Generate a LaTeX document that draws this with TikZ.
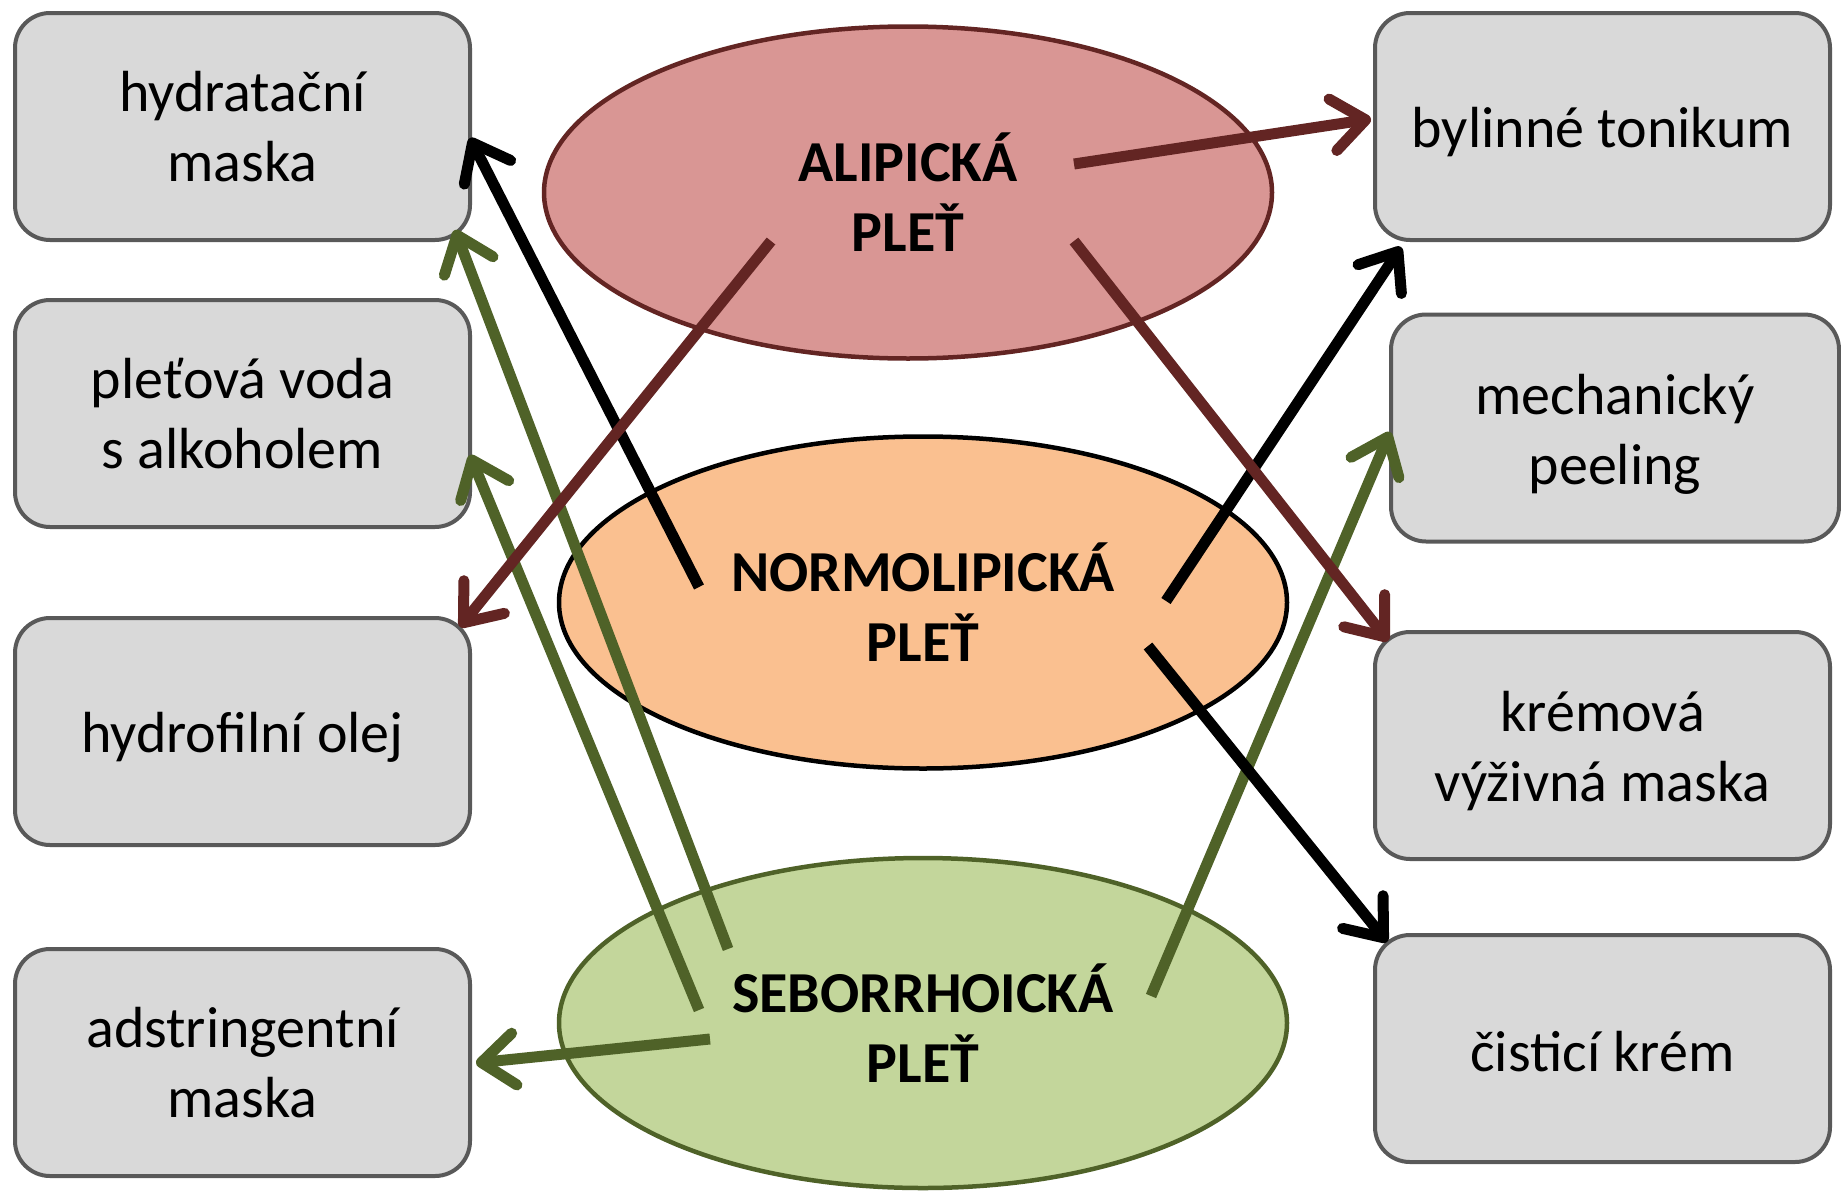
\documentclass[tikz,border=0pt]{standalone}
\usepackage{fontspec}
\setmainfont{Carlito}
\usetikzlibrary{arrows.meta,shapes.geometric}
\definecolor{boxfill}{HTML}{D9D9D9}
\definecolor{boxline}{HTML}{595959}
\definecolor{redfill}{HTML}{D99694}
\definecolor{redline}{HTML}{632523}
\definecolor{orfill}{HTML}{FAC090}
\definecolor{grfill}{HTML}{C3D69B}
\definecolor{grline}{HTML}{4F6228}
\begin{document}
\begin{tikzpicture}[x=1pt,y=-1pt,
  box/.style={draw=boxline, fill=boxfill, line width=4pt, rounded corners=35pt,
    minimum width=455pt, minimum height=227pt, inner sep=0pt},
  txt/.style={align=center, inner sep=0pt, font=\fontsize{58}{70}\selectfont},
  oval/.style={ellipse, line width=4.5pt, minimum width=728pt, minimum height=332pt,
    align=center, inner sep=0pt, font=\fontsize{58}{70}\selectfont\bfseries},
  arr/.style={line width=11pt, -{Straight Barb[round, length=33pt, width=52pt]}}
]
\useasboundingbox (0,0) rectangle (1841,1191);
% left boxes
\node[box] (l1) at (242.5,126.5) {};
\node[txt] (l1t) at (l1.center) {hydratační\\maska};
\node[box] (l2) at (242.5,413.5) {};
\node[txt] (l2t) at (l2.center) {pleťová voda\\s alkoholem};
\node[box] (l3) at (242.5,731.5) {};
\node[txt] (l3t) at ([yshift=-6pt]l3.center) {hydrofilní olej};
\node[box] (l4) at (242.5,1062.5) {};
\node[txt] (l4t) at (l4.center) {adstringentní\\maska};
% right boxes
\node[box] (r1) at (1602.5,126.5) {};
\node[txt] (r1t) at ([yshift=-6pt]r1.center) {bylinné tonikum};
\node[box, minimum width=448pt] (r2) at (1615,428) {};
\node[txt] (r2t) at ([yshift=-6pt]r2.center) {mechanický\\peeling};
\node[box] (r3) at (1602.5,745.5) {};
\node[txt] (r3t) at ([yshift=-6pt]r3.center) {krémová\\výživná maska};
\node[box] (r4) at (1602.5,1048.5) {};
\node[txt] (r4t) at ([yshift=-3pt]r4.center) {čisticí krém};
% ellipses
\node[oval, draw=redline, fill=redfill] (ali) at (908,192.5) {ALIPICKÁ\\PLEŤ};
\node[oval, draw=black, fill=orfill] (nor) at (923,602.5) {NORMOLIPICKÁ\\PLEŤ};
\node[oval, draw=grline, fill=grfill, minimum height=330pt] (seb) at (923,1023) {SEBORRHOICKÁ\\PLEŤ};
% arrow end points
\coordinate (n1) at (699,587);  \coordinate (t1) at (470,138);
\coordinate (s2) at (728,949);  \coordinate (t2) at (455,230);
\coordinate (s3) at (699,1010); \coordinate (t3) at (470,455);
\coordinate (a4) at (771,241);  \coordinate (t4) at (460,627);
\coordinate (s5) at (710,1039); \coordinate (t5) at (476,1063);
\coordinate (a6) at (1074,164); \coordinate (t6) at (1371,119);
\coordinate (n7) at (1166,601); \coordinate (t7) at (1401,247);
\coordinate (s8) at (1151,996); \coordinate (t8) at (1390,432);
\coordinate (a9) at (1074,241); \coordinate (t9) at (1388,641);
\coordinate (n10) at (1148,646); \coordinate (t10) at (1387,942);
% arrows
\draw[arr, black] (n1) -- (t1);
\draw[arr, grline] (s2) -- (t2);
\draw[arr, grline] (s3) -- (t3);
\draw[arr, redline] (a4) -- (t4);
\draw[arr, grline] (s5) -- (t5);
\draw[arr, redline] (a6) -- (t6);
\draw[arr, black] (n7) -- (t7);
\draw[arr, grline] (s8) -- (t8);
\draw[arr, redline] (a9) -- (t9);
\draw[arr, black] (n10) -- (t10);
\end{tikzpicture}
\end{document}
